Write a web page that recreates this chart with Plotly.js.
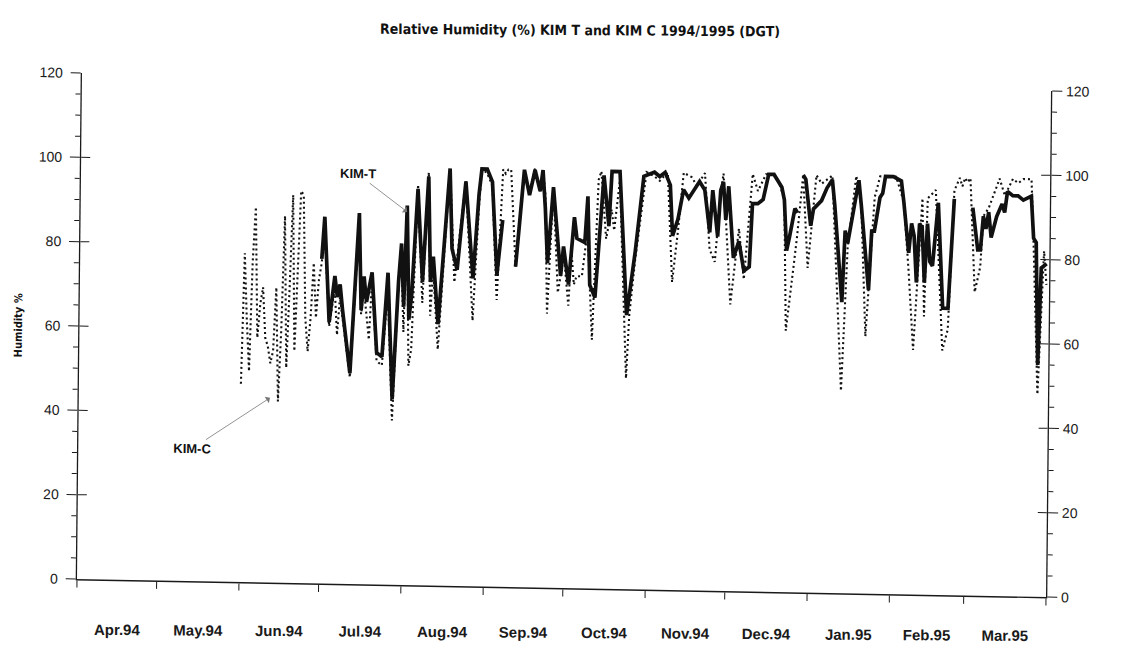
<!DOCTYPE html>
<html>
<head>
<meta charset="utf-8">
<script src="https://cdn.plot.ly/plotly-3.0.1.min.js"></script>
<style>
  html, body { margin: 0; padding: 0; background: #fff; overflow: hidden; width: 1127px; height: 646px; position: relative; }
  #chart { position: absolute; left: 0; top: 0; width: 1127px; height: 646px;
           transform: matrix(1, 0.01858, -0.00988, 1, 5.72, -1.43); transform-origin: 0 0; }
  #labels { position: absolute; left: 0; top: 0; width: 1127px; height: 646px; pointer-events: none;
            transform: matrix(1, 0.0065, 0, 1, 0, -0.7); transform-origin: 0 0; }
  .js-plotly-plot .plotly path { shape-rendering: geometricPrecision !important; }
</style>
</head>
<body>
<div id="chart"></div>
<div id="labels"></div>
<script>
// KIM-C (dotted) daily relative humidity, %
const kimCDates = [
  '1994-06-01','1994-06-02','1994-06-03','1994-06-04','1994-06-05','1994-06-06','1994-06-07','1994-06-08','1994-06-09','1994-06-10',
  '1994-06-11','1994-06-12','1994-06-13','1994-06-14','1994-06-15','1994-06-16','1994-06-17','1994-06-18','1994-06-19','1994-06-20',
  '1994-06-21','1994-06-22','1994-06-23','1994-06-24','1994-06-25','1994-06-26','1994-06-27','1994-06-28','1994-06-29','1994-06-30',
  '1994-07-01','1994-07-02','1994-07-04','1994-07-06','1994-07-07','1994-07-08','1994-07-09','1994-07-12','1994-07-15','1994-07-16',
  '1994-07-17','1994-07-19','1994-07-20','1994-07-22','1994-07-24','1994-07-26','1994-07-28','1994-07-30','1994-07-31','1994-08-01',
  '1994-08-02','1994-08-03','1994-08-04','1994-08-06','1994-08-08','1994-08-10','1994-08-11','1994-08-12','1994-08-14','1994-08-18',
  '1994-08-20','1994-08-24','1994-08-27','1994-08-29','1994-08-30','1994-09-01','1994-09-03','1994-09-05','1994-09-07','1994-09-08',
  '1994-09-09','1994-09-10','1994-09-12','1994-09-15','1994-09-17','1994-09-19','1994-09-21','1994-09-22','1994-09-23','1994-09-24',
  '1994-09-26','1994-09-28','1994-09-29','1994-09-30','1994-10-02','1994-10-03','1994-10-04','1994-10-05','1994-10-07','1994-10-09',
  '1994-10-11','1994-10-13','1994-10-14','1994-10-16','1994-10-18','1994-10-19','1994-10-21','1994-10-24','1994-10-25','1994-10-27',
  '1994-10-31','1994-11-03','1994-11-05','1994-11-08','1994-11-10','1994-11-12','1994-11-14','1994-11-17','1994-11-19','1994-11-22',
  '1994-11-24','1994-11-26','1994-11-28','1994-11-29','1994-12-02','1994-12-05','1994-12-07','1994-12-10','1994-12-12','1994-12-15',
  '1994-12-18','1994-12-20','1994-12-22','1994-12-23','1994-12-26','1994-12-27','1994-12-29','1994-12-31','1995-01-03','1995-01-05',
  '1995-01-09','1995-01-13','1995-01-15','1995-01-18','1995-01-20','1995-01-22','1995-01-25','1995-01-27','1995-02-02','1995-02-05',
  '1995-02-07','1995-02-09','1995-02-12','1995-02-13','1995-02-14','1995-02-17','1995-02-20','1995-02-22','1995-02-24','1995-02-26',
  '1995-02-27','1995-02-28','1995-03-01','1995-03-02','1995-03-04','1995-03-06','1995-03-07','1995-03-09','1995-03-13','1995-03-15',
  '1995-03-18','1995-03-20','1995-03-22','1995-03-25','1995-03-26','1995-03-28','1995-03-30','1995-03-31'
];
const kimCValues = [
  47, 78, 62, 50, 76, 89, 58, 66, 70, 58,
  56, 52, 55, 70, 43, 60, 87, 51, 70, 92,
  55, 75, 93, 92, 63, 55, 63, 76, 63, 72,
  76, 84, 61, 70, 59, 68, 63, 49, 86, 64,
  70, 58, 72, 53, 52, 70, 39, 72, 78, 60,
  88, 52, 56, 95, 67, 98, 64, 75, 56, 99,
  72, 96, 63, 90, 99, 98, 95, 68, 99, 98,
  99, 99, 76, 99, 93, 99.5, 94, 99, 93, 65,
  95, 70, 74, 80, 67, 80, 72, 74, 74, 85,
  59, 97, 99, 83, 90, 85, 97, 50, 65, 78,
  99, 98, 97, 99, 73, 85, 99, 98, 96, 99,
  81, 78, 94, 99, 68, 86, 74, 99, 95, 99,
  99, 97, 93, 62, 79, 85, 99, 77, 99, 97,
  99, 48, 82, 99, 92, 61, 94, 99, 99, 93,
  77, 58, 94, 66, 94, 96, 58, 63, 96, 99,
  97, 99, 98, 99, 72, 78, 90, 92, 99, 95,
  99, 98, 99, 99, 84, 48, 82, 74
];

// KIM-T (solid) daily relative humidity, %  (null = missing day)
const kimTDates = [
  '1994-07-01','1994-07-02','1994-07-04','1994-07-06','1994-07-07','1994-07-08','1994-07-09','1994-07-12','1994-07-15','1994-07-16',
  '1994-07-17','1994-07-18','1994-07-20','1994-07-22','1994-07-24','1994-07-26','1994-07-28','1994-07-30','1994-07-31','1994-08-01',
  '1994-08-02','1994-08-03','1994-08-04','1994-08-06','1994-08-08','1994-08-10','1994-08-11','1994-08-12','1994-08-14','1994-08-18',
  '1994-08-19','1994-08-21','1994-08-24','1994-08-27','1994-08-29','1994-08-30','1994-09-01','1994-09-03','1994-09-05','1994-09-07',
  '1994-09-08','1994-09-12','1994-09-15','1994-09-17','1994-09-19','1994-09-21','1994-09-22','1994-09-23','1994-09-24','1994-09-26',
  '1994-09-28','1994-09-29','1994-09-30','1994-10-02','1994-10-04','1994-10-05','1994-10-08','1994-10-09','1994-10-10','1994-10-12',
  '1994-10-15','1994-10-17','1994-10-18','1994-10-21','1994-10-24','1994-10-27','1994-10-30','1994-11-03','1994-11-05','1994-11-07',
  '1994-11-09','1994-11-10','1994-11-12','1994-11-14','1994-11-16','1994-11-20','1994-11-22','1994-11-24','1994-11-25','1994-11-27',
  '1994-11-28','1994-11-29','1994-11-30','1994-12-01','1994-12-03','1994-12-05','1994-12-07','1994-12-09','1994-12-10','1994-12-12',
  '1994-12-14','1994-12-16','1994-12-18','1994-12-21','1994-12-22','1994-12-23','1994-12-24','1994-12-26','1994-12-27','1994-12-28',
  '1994-12-29','1994-12-30','1995-01-01','1995-01-02','1995-01-05','1995-01-07','1995-01-09','1995-01-10','1995-01-13','1995-01-14',
  '1995-01-15','1995-01-19','1995-01-20','1995-01-23','1995-01-24','1995-01-25','1995-01-27','1995-01-28','1995-01-29','1995-02-01',
  '1995-02-04','1995-02-05','1995-02-07','1995-02-08','1995-02-09','1995-02-10','1995-02-11','1995-02-12','1995-02-13','1995-02-14',
  '1995-02-15','1995-02-16','1995-02-18','1995-02-20','1995-02-22','1995-02-24','1995-02-25','1995-03-03','1995-03-05','1995-03-06',
  '1995-03-07','1995-03-08','1995-03-09','1995-03-10','1995-03-12','1995-03-14','1995-03-15','1995-03-16','1995-03-18','1995-03-20',
  '1995-03-22','1995-03-25','1995-03-26','1995-03-27','1995-03-28','1995-03-29','1995-03-31'
];
const kimTValues = [
  77, 87, 62, 73, 68, 71, 65, 50, 88, 65,
  73, 67, 74, 55, 54, 74, 44, 72, 81, 66,
  90, 63, 69, 94, 72, 97, 72, 78, 62, 99,
  80, 75, 96, 73, 93, 99, 99, 96, 74, 87,
  null, 76, 99, 93, 99, 94, 99, 90, 77, 95,
  80, 74, 81, 72, 88, 83, 82, 93, 72, 69,
  98, 86, 99, 99, 65, 80, 98, 99, 98, 99,
  96, 84, 88, 95, 93, 97, 95, 85, 95, 84,
  95, 97, 88, 96, 79, 83, 76, 77, 92, 92,
  93, 99, 99, 96, 93, 81, 84, 91, 90, null,
  99, 98, 87, 91, 93, 96, 98, 92, 69, 86,
  83, 98, 92, 72, 86, 86, 94, 95, 99, 99,
  98, 93, 81, 88, 85, 74, 88, 87, 74, 88,
  79, 78, 93, 68, 68, 94, null, 92, 82, 82,
  90, 87, 91, 85, 90, 93, 91, 96, 95, 95,
  94, 95, 85, 84, 55, 78, 79
];

const titleText = 'Relative Humidity (%) KIM T and KIM C 1994/1995 (DGT)';
const yTitleText = 'Humidity %';
const xRange = ['1994-04-01', '1995-04-01'];
const monthTickFormat = '%b.%y';

const tickFont = { family: 'Liberation Sans, Arial, sans-serif', size: 14, color: '#1a1a1a' };
const axColor = '#1a1a1a';
const margins = { l: 77, r: 81, t: 73, b: 67 };

const traces = [
  { x: kimCDates, y: kimCValues, type: 'scatter', mode: 'lines', name: 'KIM-C',
    line: { color: '#111', width: 2.1, dash: '2px,3px' }, hoverinfo: 'x+y' },
  { x: kimTDates, y: kimTValues, type: 'scatter', mode: 'lines', name: 'KIM-T',
    line: { color: '#111', width: 3.7 }, connectgaps: false, hoverinfo: 'x+y' }
];

const yBase = { range: [0, 120], dtick: 20, showgrid: false, zeroline: false, fixedrange: true };

const layout = {
  width: 1127, height: 646,
  margin: margins,
  paper_bgcolor: 'rgba(0,0,0,0)', plot_bgcolor: 'rgba(0,0,0,0)',
  showlegend: false,
  xaxis: {
    type: 'date', range: xRange, tick0: xRange[0], dtick: 'M1',
    ticks: 'outside', ticklen: 7, tickcolor: axColor, tickwidth: 1,
    showline: true, linecolor: axColor, linewidth: 1.4,
    showgrid: false, zeroline: false, showticklabels: false, fixedrange: true
  },
  yaxis: Object.assign({}, yBase, {
    side: 'left', ticks: 'outside', ticklen: 10, tickcolor: axColor,
    minor: { dtick: 5, ticks: 'outside', ticklen: 5, tickcolor: axColor },
    showline: true, linecolor: axColor, linewidth: 1.3,
    tickfont: tickFont, ticklabelstandoff: 5
  }),
  yaxis2: Object.assign({}, yBase, {
    overlaying: 'y', side: 'right', anchor: 'x', ticks: 'outside', ticklen: 10, tickcolor: axColor,
    minor: { dtick: 5, ticks: 'outside', ticklen: 5, tickcolor: axColor },
    showline: true, linecolor: axColor, linewidth: 1.3,
    tickfont: tickFont, ticklabelstandoff: 1
  }),
  yaxis3: Object.assign({}, yBase, {
    overlaying: 'y', side: 'left', anchor: 'x', ticks: 'inside', ticklen: 9, tickcolor: axColor,
    showticklabels: false, showline: false
  }),
  yaxis4: Object.assign({}, yBase, {
    overlaying: 'y', side: 'right', anchor: 'x', ticks: 'inside', ticklen: 9, tickcolor: axColor,
    showticklabels: false, showline: false
  }),
  annotations: [
    { text: yTitleText, xref: 'paper', yref: 'paper', x: -0.0635, y: 0.5, xanchor: 'center', yanchor: 'middle',
      textangle: -90, showarrow: false,
      font: { family: 'Liberation Sans Narrow, DejaVu Sans Condensed, sans-serif', size: 11, weight: 700, color: '#111' } },
    { text: 'KIM-T', xref: 'x', yref: 'y', x: '1994-08-02', y: 88.5, ax: -50, ay: -37,
      showarrow: true, arrowhead: 1, arrowsize: 1.6, arrowwidth: 0.8, arrowcolor: '#777', standoff: 0,
      font: { family: 'Liberation Sans, Arial, sans-serif', size: 13, weight: 700, color: '#111' } },
    { text: 'KIM-C', xref: 'x', yref: 'y', x: '1994-06-12', y: 43.8, ax: -77, ay: 52,
      showarrow: true, arrowhead: 1, arrowsize: 1.6, arrowwidth: 0.8, arrowcolor: '#777', standoff: 0,
      font: { family: 'Liberation Sans, Arial, sans-serif', size: 13, weight: 700, color: '#111' } }
  ]
};

// invisible traces that activate the tick-only overlay axes
traces.push({ x: [kimTDates[0]], y: [null], yaxis: 'y2', type: 'scatter', mode: 'lines', showlegend: false, hoverinfo: 'skip' });
traces.push({ x: [kimTDates[0]], y: [null], yaxis: 'y3', type: 'scatter', mode: 'lines', showlegend: false, hoverinfo: 'skip' });
traces.push({ x: [kimTDates[0]], y: [null], yaxis: 'y4', type: 'scatter', mode: 'lines', showlegend: false, hoverinfo: 'skip' });

Plotly.newPlot('chart', traces, layout, { displayModeBar: false, staticPlot: true });

// Second (less skewed) layer: title and month labels, on the same date scale
const labelLayout = {
  width: 1127, height: 646,
  margin: margins,
  paper_bgcolor: 'rgba(0,0,0,0)', plot_bgcolor: 'rgba(0,0,0,0)',
  showlegend: false,
  title: { text: titleText, x: 0.5147, xref: 'container', xanchor: 'center', y: 0.958, yref: 'container', yanchor: 'middle',
           font: { family: 'Liberation Sans Narrow, DejaVu Sans Condensed, Arial Narrow, sans-serif', size: 14, weight: 700, color: '#111' } },
  xaxis: {
    type: 'date', range: xRange, tick0: xRange[0], dtick: 'M1',
    ticklabelmode: 'period', tickformat: monthTickFormat,
    ticks: 'outside', ticklen: 7, tickcolor: 'rgba(0,0,0,0)',
    showline: false, showgrid: false, zeroline: false,
    tickfont: { family: 'Liberation Sans, Arial, sans-serif', size: 15, weight: 700, color: '#1a1a1a' },
    ticklabelstandoff: 30, fixedrange: true
  },
  yaxis: { range: [0, 120], visible: false, fixedrange: true }
};
Plotly.newPlot('labels', [{ x: [xRange[0]], y: [null], type: 'scatter', mode: 'lines', hoverinfo: 'skip' }],
               labelLayout, { displayModeBar: false, staticPlot: true });
</script>
</body>
</html>
